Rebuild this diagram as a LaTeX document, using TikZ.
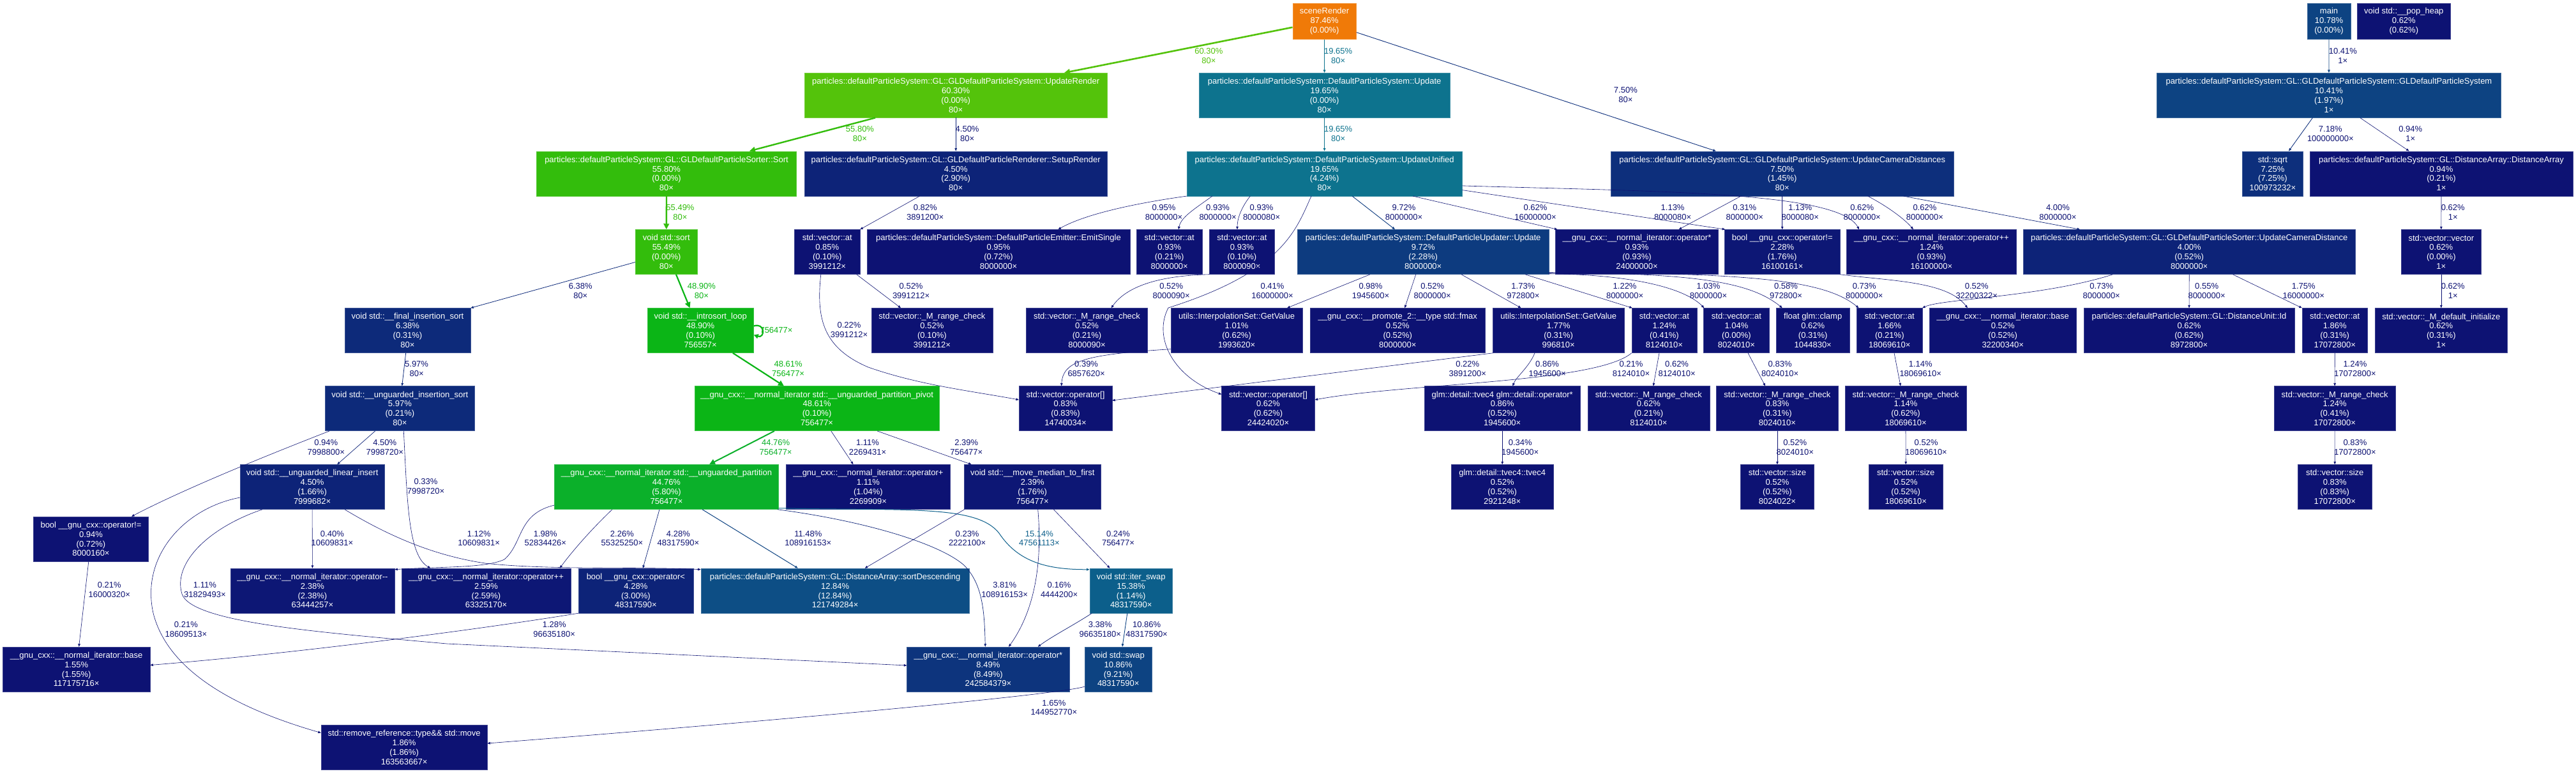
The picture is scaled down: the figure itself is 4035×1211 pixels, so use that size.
\documentclass[tikz,border=0pt]{standalone}
\usepackage{fontspec}
\setmainfont{Liberation Sans}
\usetikzlibrary{arrows.meta}
\definecolor{corg}{RGB}{240,122,8}
\definecolor{cg60}{RGB}{84,195,11}
\definecolor{cg55}{RGB}{51,189,12}
\definecolor{cg49}{RGB}{11,181,22}
\definecolor{cg45}{RGB}{11,176,42}
\definecolor{ct20}{RGB}{13,115,142}
\definecolor{ct15}{RGB}{12,95,139}
\definecolor{c13}{RGB}{13,78,133}
\definecolor{c11}{RGB}{13,67,130}
\definecolor{c10}{RGB}{13,59,127}
\definecolor{c8}{RGB}{13,52,125}
\definecolor{c7}{RGB}{13,47,124}
\definecolor{c6}{RGB}{13,42,122}
\definecolor{c4}{RGB}{13,35,120}
\definecolor{c3}{RGB}{13,28,118}
\definecolor{c2}{RGB}{13,23,117}
\definecolor{c1}{RGB}{13,18,115}
\newcommand\nf{\fontsize{13pt}{14.8pt}\selectfont}
\tikzset{
  box/.style={rectangle, inner sep=0pt, text=white, align=center, font=\nf, minimum height=70pt, fill=#1, draw=#1!80!white, line width=0.5pt},
  ed/.style={draw=#1, line width=0.6pt, -{Triangle[length=4.5pt,width=3.6pt]}},
  heavy/.style={line width=#1, -{Triangle[length=9pt,width=8.5pt]}},
  lbl/.style={font=\nf, align=center, inner sep=0pt, text=#1},
}
\newcommand\bx[6]{\node[box=#5, minimum width=#4pt] (#1) at (#2,#3) {#6};}
\newcommand\bxs[6]{\node[box=#5, minimum width=#4pt, minimum height=56pt] (#1) at (#2,#3) {#6};}
\newcommand\lb[5]{\node[lbl=#4] (#1) at (#2,#3) {#5};}
\begin{document}
\begin{tikzpicture}[x=1pt,y=-1pt]
\useasboundingbox[fill=white] (0,0) rectangle (4035,1211);
% ---------------- nodes
\bxs{scene}{2074.6}{33.25}{99.7}{corg}{sceneRender\\87.46\%\\(0.00\%)}
\bxs{mainn}{3648}{33.25}{68.3}{c11}{main\\10.78\%\\(0.00\%)}
\bxs{popheap}{3765.3}{33.25}{145.8}{c1}{void std::\_\_pop\_heap\\0.62\%\\(0.62\%)}
\bx{updrender}{1497.2}{149.2}{473.9}{cg60}{particles::defaultParticleSystem::GL::GLDefaultParticleSystem::UpdateRender\\60.30\%\\(0.00\%)\\80×}
\bx{update}{2074.6}{149.2}{392.9}{ct20}{particles::defaultParticleSystem::DefaultParticleSystem::Update\\19.65\%\\(0.00\%)\\80×}
\bx{gldps}{3647.9}{149.2}{539.5}{c11}{particles::defaultParticleSystem::GL::GLDefaultParticleSystem::GLDefaultParticleSystem\\10.41\%\\(1.97\%)\\1×}
\bx{sortn}{1044}{271.8}{407.2}{cg55}{particles::defaultParticleSystem::GL::GLDefaultParticleSorter::Sort\\55.80\%\\(0.00\%)\\80×}
\bx{setup}{1497.2}{271.8}{473.9}{c4}{particles::defaultParticleSystem::GL::GLDefaultParticleRenderer::SetupRender\\4.50\%\\(2.90\%)\\80×}
\bx{unified}{2074.6}{271.8}{431.1}{ct20}{particles::defaultParticleSystem::DefaultParticleSystem::UpdateUnified\\19.65\%\\(4.24\%)\\80×}
\bx{ucd}{2791.7}{271.8}{537.4}{c7}{particles::defaultParticleSystem::GL::GLDefaultParticleSystem::UpdateCameraDistances\\7.50\%\\(1.45\%)\\80×}
\bx{sqrtn}{3559.9}{271.8}{94.9}{c7}{std::sqrt\\7.25\%\\(7.25\%)\\100973232×}
\bx{distarr}{3824}{271.8}{412.3}{c1}{particles::defaultParticleSystem::GL::DistanceArray::DistanceArray\\0.94\%\\(0.21\%)\\1×}
\bx{stdsort}{1043.8}{394.5}{97.2}{cg55}{void std::sort\\55.49\%\\(0.00\%)\\80×}
\bx{at085}{1295.8}{394.5}{102.3}{c1}{std::vector::at\\0.85\%\\(0.10\%)\\3991212×}
\bx{emit}{1564}{394.5}{411.5}{c1}{particles::defaultParticleSystem::DefaultParticleEmitter::EmitSingle\\0.95\%\\(0.72\%)\\8000000×}
\bx{at093a}{1831.7}{394.5}{102.4}{c1}{std::vector::at\\0.93\%\\(0.21\%)\\8000000×}
\bx{at093b}{1945.4}{394.5}{102.3}{c1}{std::vector::at\\0.93\%\\(0.10\%)\\8000090×}
\bx{dpu}{2229.2}{394.5}{393.3}{c10}{particles::defaultParticleSystem::DefaultParticleUpdater::Update\\9.72\%\\(2.28\%)\\8000000×}
\bx{opstar093}{2564}{394.5}{254.6}{c1}{\_\_gnu\_cxx::\_\_normal\_iterator::operator*\\0.93\%\\(0.93\%)\\24000000×}
\bx{neq228}{2791.7}{394.5}{180.4}{c2}{bool \_\_gnu\_cxx::operator!=\\2.28\%\\(1.76\%)\\16100161×}
\bx{pp124}{3025.4}{394.5}{265.6}{c1}{\_\_gnu\_cxx::\_\_normal\_iterator::operator++\\1.24\%\\(0.93\%)\\16100000×}
\bx{ucdist}{3429.2}{394.5}{519.5}{c4}{particles::defaultParticleSystem::GL::GLDefaultParticleSorter::UpdateCameraDistance\\4.00\%\\(0.52\%)\\8000000×}
\bx{vecvec}{3823.8}{394.5}{124.6}{c1}{std::vector::vector\\0.62\%\\(0.00\%)\\1×}
\bx{finsort}{638.5}{517.5}{197}{c6}{void std::\_\_final\_insertion\_sort\\6.38\%\\(0.31\%)\\80×}
\bx{intro}{1097.2}{517.5}{166.5}{cg49}{void std::\_\_introsort\_loop\\48.90\%\\(0.10\%)\\756557×}
\bx{rc052a}{1459.9}{517.5}{190.3}{c1}{std::vector::\_M\_range\_check\\0.52\%\\(0.10\%)\\3991212×}
\bx{rc052b}{1702.5}{517.5}{190}{c1}{std::vector::\_M\_range\_check\\0.52\%\\(0.21\%)\\8000090×}
\bx{getv101}{1937.1}{517.5}{206.4}{c1}{utils::InterpolationSet::GetValue\\1.01\%\\(0.62\%)\\1993620×}
\bx{fmax}{2189.3}{517.5}{273.7}{c1}{\_\_gnu\_cxx::\_\_promote\_2::\_\_type std::fmax\\0.52\%\\(0.52\%)\\8000000×}
\bx{getv177}{2441.2}{517.5}{206}{c1}{utils::InterpolationSet::GetValue\\1.77\%\\(0.31\%)\\996810×}
\bx{at124}{2606.9}{517.5}{101.9}{c1}{std::vector::at\\1.24\%\\(0.41\%)\\8124010×}
\bx{at104}{2719.9}{517.5}{102.7}{c1}{std::vector::at\\1.04\%\\(0.00\%)\\8024010×}
\bx{clamp}{2839.7}{517.5}{115.6}{c1}{float glm::clamp\\0.62\%\\(0.31\%)\\1044830×}
\bx{at166}{2959.8}{517.5}{102.2}{c1}{std::vector::at\\1.66\%\\(0.21\%)\\18069610×}
\bx{base052}{3137.2}{517.5}{230.4}{c1}{\_\_gnu\_cxx::\_\_normal\_iterator::base\\0.52\%\\(0.52\%)\\32200340×}
\bx{distid}{3429}{517.5}{330}{c1}{particles::defaultParticleSystem::GL::DistanceUnit::Id\\0.62\%\\(0.62\%)\\8972800×}
\bx{at186}{3657.2}{517.5}{102.4}{c1}{std::vector::at\\1.86\%\\(0.31\%)\\17072800×}
\bx{definit}{3823.8}{517.5}{207}{c1}{std::vector::\_M\_default\_initialize\\0.62\%\\(0.31\%)\\1×}
\bx{uinssort}{626.4}{639.7}{233.8}{c6}{void std::\_\_unguarded\_insertion\_sort\\5.97\%\\(0.21\%)\\80×}
\bx{pivot}{1279.6}{639.7}{382.5}{cg49}{\_\_gnu\_cxx::\_\_normal\_iterator std::\_\_unguarded\_partition\_pivot\\48.61\%\\(0.10\%)\\756477×}
\bx{opidx1}{1669}{639.7}{145.7}{c1}{std::vector::operator[]\\0.83\%\\(0.83\%)\\14740034×}
\bx{opidx2}{1986.5}{639.7}{145.7}{c1}{std::vector::operator[]\\0.62\%\\(0.62\%)\\24424020×}
\bx{glmmul}{2353.2}{639.7}{244.2}{c1}{glm::detail::tvec4 glm::detail::operator*\\0.86\%\\(0.52\%)\\1945600×}
\bx{rc062}{2582.4}{639.7}{190.9}{c1}{std::vector::\_M\_range\_check\\0.62\%\\(0.21\%)\\8124010×}
\bx{rc083}{2783.9}{639.7}{190.6}{c1}{std::vector::\_M\_range\_check\\0.83\%\\(0.31\%)\\8024010×}
\bx{rc114}{2985}{639.7}{190.2}{c1}{std::vector::\_M\_range\_check\\1.14\%\\(0.62\%)\\18069610×}
\bx{rc124}{3657.1}{639.7}{190.1}{c1}{std::vector::\_M\_range\_check\\1.24\%\\(0.41\%)\\17072800×}
\bx{linins}{489.1}{762.5}{225.5}{c4}{void std::\_\_unguarded\_linear\_insert\\4.50\%\\(1.66\%)\\7999682×}
\bx{upart}{1044}{762.5}{350.8}{cg45}{\_\_gnu\_cxx::\_\_normal\_iterator std::\_\_unguarded\_partition\\44.76\%\\(5.80\%)\\756477×}
\bx{opplus}{1359.9}{762.5}{256.8}{c1}{\_\_gnu\_cxx::\_\_normal\_iterator::operator+\\1.11\%\\(1.04\%)\\2269909×}
\bx{median}{1617.2}{762.5}{214.7}{c2}{void std::\_\_move\_median\_to\_first\\2.39\%\\(1.76\%)\\756477×}
\bx{tvec}{2353.2}{762.5}{159.2}{c1}{glm::detail::tvec4::tvec4\\0.52\%\\(0.52\%)\\2921248×}
\bx{size1}{2783.9}{762.5}{115.6}{c1}{std::vector::size\\0.52\%\\(0.52\%)\\8024022×}
\bx{size2}{2985.2}{762.5}{115.6}{c1}{std::vector::size\\0.52\%\\(0.52\%)\\18069610×}
\bx{size3}{3657.2}{762.5}{115.7}{c1}{std::vector::size\\0.83\%\\(0.83\%)\\17072800×}
\bx{neq094}{142.5}{844}{179.9}{c1}{bool \_\_gnu\_cxx::operator!=\\0.94\%\\(0.72\%)\\8000160×}
\bx{opmm}{489.4}{925}{257.2}{c2}{\_\_gnu\_cxx::\_\_normal\_iterator::operator-{}-\\2.38\%\\(2.38\%)\\63444257×}
\bx{oppp259}{761.5}{925}{265.4}{c2}{\_\_gnu\_cxx::\_\_normal\_iterator::operator++\\2.59\%\\(2.59\%)\\63325170×}
\bx{oplt}{995.9}{925}{179.9}{c4}{bool \_\_gnu\_cxx::operator<\\4.28\%\\(3.00\%)\\48317590×}
\bx{sortdesc}{1308.1}{925}{420.2}{c13}{particles::defaultParticleSystem::GL::DistanceArray::sortDescending\\12.84\%\\(12.84\%)\\121749284×}
\bx{iterswap}{1771.7}{925}{129.7}{ct15}{void std::iter\_swap\\15.38\%\\(1.14\%)\\48317590×}
\bx{base155}{119.7}{1048}{230.7}{c1}{\_\_gnu\_cxx::\_\_normal\_iterator::base\\1.55\%\\(1.55\%)\\117175716×}
\bx{opstar849}{1547.9}{1048}{254.6}{c8}{\_\_gnu\_cxx::\_\_normal\_iterator::operator*\\8.49\%\\(8.49\%)\\242584379×}
\bx{swapn}{1751.7}{1048}{104.6}{c11}{void std::swap\\10.86\%\\(9.21\%)\\48317590×}
\bx{move}{633.1}{1170.5}{260.2}{c1}{std::remove\_reference::type\&\& std::move\\1.86\%\\(1.86\%)\\163563667×}
% ---------------- edges
\draw[ed=cg60, heavy=2.6pt] ([yshift=-9.5pt]scene.west) -- ([xshift=169.8pt]updrender.north);
\draw[ed=ct20, line width=1.2pt] (scene.south) -- (update.north);
\draw[ed=c7, line width=0.9pt] ([yshift=-17.4pt]scene.east) -- ([xshift=-104pt]ucd.north);
\draw[ed=ct20, line width=1.2pt] (update.south) -- (unified.north);
\draw[ed=cg55, heavy=2.4pt] ([xshift=-126.2pt]updrender.south) -- ([xshift=129.9pt]sortn.north);
\draw[ed=c4, line width=0.7pt] (updrender.south) -- (setup.north);
\draw[ed=cg55, heavy=2.4pt] (sortn.south) -- (stdsort.north);
\draw[ed=c6, line width=0.8pt] ([yshift=-16pt]stdsort.west) -- (finsort.north east);
\draw[ed=cg49, heavy=2.2pt] ([xshift=15.2pt]stdsort.south) -- ([xshift=-16.6pt]intro.north);
\draw[ed=cg49, line width=2.2pt, -{Triangle[length=7pt,width=7pt]}] ([yshift=7pt]intro.east) .. controls +(18,-6) and +(18,6) .. ([yshift=-7pt]intro.east);
\draw[ed=cg49, heavy=2.2pt] ([xshift=50.7pt]intro.south) -- ([xshift=-51.6pt]pivot.north);
\draw[ed=c6, line width=0.8pt] ([xshift=-2.8pt]finsort.south) -- ([xshift=3.3pt]uinssort.north);
\draw[ed=c1] ([xshift=-56.6pt]setup.south) -- (at085.north east);
\draw[ed=c1] ([xshift=45.9pt]at085.south) -- ([xshift=-48.9pt]rc052a.north);
\draw[ed=c1] ([xshift=-10pt]at085.south) .. controls (1278,500) and (1290,545) .. (1360,575) .. controls (1440,603) and (1520,612) .. ([yshift=13.7pt]opidx1.west);
\draw[ed=c1] (unified.south west) .. controls (1780,318) and (1700,335) .. ([xshift=93.4pt]emit.north);
\draw[ed=c1] ([xshift=-175.7pt]unified.south) .. controls (1870,328) and (1850,340) .. ([xshift=14.3pt]at093a.north);
\draw[ed=c1] ([xshift=-116.3pt]unified.south) .. controls (1942,328) and (1938,345) .. ([xshift=-7.4pt]at093b.north);
\draw[ed=c1] (at093b.south west) .. controls (1800,432) and (1760,455) .. ([xshift=38.1pt]rc052b.north);
\draw[ed=c1] ([xshift=-20.6pt]unified.south) .. controls (2030,360) and (2010,425) .. (1830,482) .. controls (1805,530) and (1840,592) .. ([yshift=22.2pt]opidx2.west);
\draw[ed=c1] ([yshift=-29.2pt]getv101.west) .. controls (1700,555) and (1665,565) .. ([xshift=-6.4pt]opidx1.north);
\draw[ed=c10, line width=0.9pt] ([xshift=43.4pt]unified.south) -- ([xshift=-44.2pt]dpu.north);
\draw[ed=c1] ([xshift=138.4pt]unified.south) -- ([xshift=3pt]opstar093.north west);
\draw[ed=c1] ([yshift=-25.8pt]unified.east) -- ([xshift=1pt]neq228.north west);
\draw[ed=c1] ([yshift=-19.1pt]unified.east) .. controls (2600,300) and (2880,300) .. ([xshift=-113.4pt]pp124.north);
\draw[ed=c1] ([xshift=-64.7pt]ucd.south) -- ([xshift=65.6pt]opstar093.north);
\draw[ed=c1] (ucd.south) -- (neq228.north);
\draw[ed=c1] ([xshift=133.9pt]ucd.south) .. controls (2960,325) and (2985,345) .. ([xshift=-28.4pt]pp124.north);
\draw[ed=c4, line width=0.7pt] ([xshift=189.7pt]ucd.south) -- ([xshift=-171.2pt]ucdist.north);
\draw[ed=c1] ([xshift=-83.2pt]dpu.south) -- ([xshift=78.9pt]getv101.north);
\draw[ed=c1] ([xshift=-11.5pt]dpu.south) -- ([xshift=11pt]fmax.north);
\draw[ed=c1] ([xshift=59.8pt]dpu.south) -- ([xshift=-58.7pt]getv177.north);
\draw[ed=c1] ([xshift=159.8pt]dpu.south) -- ([xshift=1pt]at124.north west);
\draw[ed=c1] ([yshift=1pt]dpu.south east) .. controls (2560,430) and (2640,452) .. ([xshift=1pt]at104.north west);
\draw[ed=c1] ([yshift=3pt]dpu.south east) .. controls (2650,428) and (2740,440) .. ([xshift=-48pt]clamp.north);
\draw[ed=c1] ([yshift=2pt]dpu.south east) .. controls (2750,426) and (2860,440) .. ([xshift=3pt]at166.north west);
\draw[ed=c1] (neq228.south east) .. controls (2960,440) and (3050,440) .. ([xshift=-55.3pt]base052.north);
\draw[ed=c1] ([xshift=-119.7pt]ucdist.south) .. controls (3200,465) and (3040,468) .. (at166.north east);
\draw[ed=c1] (ucdist.south) -- (distid.north);
\draw[ed=c1] ([xshift=68.2pt]ucdist.south) -- (at186.north west);
\draw[ed=c11, line width=0.9pt] (mainn.south) -- (gldps.north);
\draw[ed=c7, line width=0.85pt] ([xshift=-25.5pt]gldps.south) -- ([xshift=25.1pt]sqrtn.north);
\draw[ed=c1] ([xshift=48.9pt]gldps.south) -- ([xshift=-50.5pt]distarr.north);
\draw[ed=c1] (distarr.south) -- (vecvec.north);
\draw[ed=c1] (vecvec.south) -- (definit.north);
\draw[ed=c1] (at186.south) -- (rc124.north);
\draw[ed=c1] (rc124.south) -- (size3.north);
\draw[ed=c1] ([xshift=18.1pt]at104.south) -- ([xshift=-18.9pt]rc083.north);
\draw[ed=c1] ([xshift=7.2pt]at166.south) -- ([xshift=-8pt]rc114.north);
\draw[ed=c1] (rc083.south) -- (size1.north);
\draw[ed=c1] (rc114.south) -- (size2.north);
\draw[ed=c1] (glmmul.south) -- (tvec.north);
\draw[ed=c1] ([xshift=-37.2pt]getv177.south) .. controls (2395,575) and (2375,590) .. ([xshift=16.2pt]glmmul.north);
\draw[ed=c1] ([xshift=1pt]getv177.south west) -- ([yshift=12.7pt]opidx1.east);
\draw[ed=c1] (at124.south west) .. controls (2500,600) and (2200,600) .. ([yshift=13.7pt]opidx2.east);
\draw[ed=c1] ([xshift=-7.9pt]at124.south) -- ([xshift=7.3pt]rc062.north);
\draw[ed=c1] ([xshift=-110.4pt]uinssort.south) .. controls (400,720) and (280,770) .. ([xshift=63.5pt]neq094.north);
\draw[ed=c4, line width=0.7pt] ([xshift=-38.8pt]uinssort.south) -- ([xshift=39.1pt]linins.north);
\draw[ed=c1] ([xshift=5.9pt]uinssort.south) .. controls (638,790) and (640,870) .. ([xshift=-87.2pt]oppp259.north);
\draw[ed=c1] ([xshift=-3.7pt]neq094.south) -- ([xshift=3.9pt]base155.north);
\draw[ed=c1] (linins.south) -- (opmm.north);
\draw[ed=c1] ([yshift=-16.5pt]linins.west) .. controls (290,795) and (220,870) .. (240,960) .. controls (265,1060) and (390,1115) .. ([yshift=23pt]move.west);
\draw[ed=c1] ([xshift=-78.1pt]linins.south) .. controls (330,825) and (270,880) .. (285,930) .. controls (300,975) and (500,990) .. (700,1008) -- ([yshift=6pt]opstar849.west);
\draw[ed=c1] ([xshift=50.8pt]linins.south) .. controls (610,840) and (680,870) .. (760,882) .. controls (860,893) and (1000,887) .. ([yshift=-2pt]sortdesc.north west);
\draw[ed=c1] ([yshift=-28.5pt]upart.west) .. controls (810,805) and (820,850) .. (790,876) .. controls (760,890) and (690,887) .. ([yshift=-2pt]opmm.north east);
\draw[ed=c1] ([xshift=-85pt]upart.south) .. controls (925,830) and (895,865) .. ([xshift=115.3pt]oppp259.north);
\draw[ed=c4, line width=0.7pt] ([xshift=-11pt]upart.south) -- ([xshift=11.1pt]oplt.north);
\draw[ed=c11, line width=1pt] ([xshift=56pt]upart.south) -- ([xshift=-58.3pt]sortdesc.north);
\draw[ed=c4, line width=0.7pt] ([xshift=-2pt]upart.south east) .. controls (1350,815) and (1470,850) .. (1510,885) .. controls (1540,915) and (1542,960) .. ([xshift=-4.6pt]opstar849.north);
\draw[ed=ct15, line width=1pt] ([yshift=2pt]upart.south east) .. controls (1420,800) and (1530,790) .. (1565,835) .. controls (1595,880) and (1640,892) .. ([yshift=-2pt]iterswap.north west);
\draw[ed=cg45, heavy=2pt] ([xshift=-66.7pt]pivot.south) -- ([xshift=67pt]upart.north);
\draw[ed=c1] ([xshift=22.2pt]pivot.south) -- ([xshift=-23.4pt]opplus.north);
\draw[ed=c1] ([xshift=94.6pt]pivot.south) -- ([xshift=-95.6pt]median.north);
\draw[ed=c1] ([xshift=1pt]median.south west) -- ([xshift=46.6pt]sortdesc.north);
\draw[ed=c1] ([xshift=8.5pt]median.south) .. controls (1632,870) and (1625,950) .. ([xshift=32.1pt]opstar849.north);
\draw[ed=c1] ([xshift=33.2pt]median.south) -- ([xshift=-33.2pt]iterswap.north);
\draw[ed=c3, line width=0.7pt] ([xshift=-61.4pt]iterswap.south) .. controls (1680,980) and (1650,995) .. ([xshift=77.8pt]opstar849.north);
\draw[ed=c11, line width=0.9pt] ([xshift=-5.9pt]iterswap.south) -- ([xshift=6.3pt]swapn.north);
\draw[ed=c1] (oplt.south west) .. controls (800,978) and (500,1020) .. ([yshift=6.5pt]base155.east);
\draw[ed=c1] ([yshift=-27pt]swapn.west) .. controls (1660,1088) and (1200,1130) .. ([yshift=6.5pt]move.east);
% ---------------- edge labels
\lb{l1}{1893.3}{87.2}{cg60}{60.30\%\\80×}
\lb{l2}{2096.2}{87.2}{ct20}{19.65\%\\80×}
\lb{l3}{2546.4}{148.2}{c1}{7.50\%\\80×}
\lb{l4}{2096.2}{209.3}{ct20}{19.65\%\\80×}
\lb{l5}{1347}{209.3}{cg55}{55.80\%\\80×}
\lb{l6}{1515.1}{209.3}{c1}{4.50\%\\80×}
\lb{l7}{1065.5}{332.3}{cg55}{55.49\%\\80×}
\lb{l8}{909.3}{455.3}{c1}{6.38\%\\80×}
\lb{l9}{1098.9}{455.3}{cg49}{48.90\%\\80×}
\lb{l10}{1216}{516.7}{cg49}{756477×}
\lb{l11}{1234.6}{577.6}{cg49}{48.61\%\\756477×}
\lb{l12}{652.6}{577.6}{c1}{5.97\%\\80×}
\lb{l13}{1449.2}{332.3}{c1}{0.82\%\\3891200×}
\lb{l14}{1427.1}{455.3}{c1}{0.52\%\\3991212×}
\lb{l15}{1330}{516.2}{c1}{0.22\%\\3991212×}
\lb{l16}{1823}{332.3}{c1}{0.95\%\\8000000×}
\lb{l17}{1907.6}{332.3}{c1}{0.93\%\\8000000×}
\lb{l18}{1976.1}{332.3}{c1}{0.93\%\\8000080×}
\lb{l19}{1834.7}{455.3}{c1}{0.52\%\\8000090×}
\lb{l20}{1993}{455.3}{c1}{0.41\%\\16000000×}
\lb{l21}{1701.6}{577.6}{c1}{0.39\%\\6857620×}
\lb{l22}{2199}{332.3}{c1}{9.72\%\\8000000×}
\lb{l23}{2405}{332.3}{c1}{0.62\%\\16000000×}
\lb{l24}{2620.1}{332.3}{c1}{1.13\%\\8000080×}
\lb{l25}{2916.7}{332.3}{c1}{0.62\%\\8000000×}
\lb{l26}{2732.8}{332.3}{c1}{0.31\%\\8000000×}
\lb{l27}{2819.8}{332.3}{c1}{1.13\%\\8000080×}
\lb{l28}{3014.9}{332.3}{c1}{0.62\%\\8000000×}
\lb{l29}{3223.4}{332.3}{c1}{4.00\%\\8000000×}
\lb{l30}{2147}{455.3}{c1}{0.98\%\\1945600×}
\lb{l31}{2243.7}{455.3}{c1}{0.52\%\\8000000×}
\lb{l32}{2385.9}{455.3}{c1}{1.73\%\\972800×}
\lb{l33}{2545.1}{455.3}{c1}{1.22\%\\8000000×}
\lb{l34}{2676}{455.3}{c1}{1.03\%\\8000000×}
\lb{l35}{2797.5}{455.3}{c1}{0.58\%\\972800×}
\lb{l36}{2920.3}{455.3}{c1}{0.73\%\\8000000×}
\lb{l37}{3096.2}{455.3}{c1}{0.52\%\\32200322×}
\lb{l38}{3291.7}{455.3}{c1}{0.73\%\\8000000×}
\lb{l39}{3456.6}{455.3}{c1}{0.55\%\\8000000×}
\lb{l40}{3608.2}{455.3}{c1}{1.75\%\\16000000×}
\lb{l41}{3669.8}{87.2}{c1}{10.41\%\\1×}
\lb{l42}{3650.3}{209.3}{c1}{7.18\%\\100000000×}
\lb{l43}{3775.7}{209.3}{c1}{0.94\%\\1×}
\lb{l44}{3842.2}{332.3}{c1}{0.62\%\\1×}
\lb{l45}{3842.2}{455.3}{c1}{0.62\%\\1×}
\lb{l46}{3688.9}{577.6}{c1}{1.24\%\\17072800×}
\lb{l47}{3688.9}{700.2}{c1}{0.83\%\\17072800×}
\lb{l48}{2788.1}{577.6}{c1}{0.83\%\\8024010×}
\lb{l49}{3008.2}{577.6}{c1}{1.14\%\\18069610×}
\lb{l50}{2811.8}{700.2}{c1}{0.52\%\\8024010×}
\lb{l51}{3017.1}{700.2}{c1}{0.52\%\\18069610×}
\lb{l52}{2381.2}{700.2}{c1}{0.34\%\\1945600×}
\lb{l53}{2423.6}{577.6}{c1}{0.86\%\\1945600×}
\lb{l54}{2298.8}{577.6}{c1}{0.22\%\\3891200×}
\lb{l55}{2555}{577.6}{c1}{0.21\%\\8124010×}
\lb{l56}{2626.6}{577.6}{c1}{0.62\%\\8124010×}
\lb{l58}{510.8}{700.2}{c1}{0.94\%\\7998800×}
\lb{l59}{602.8}{700.2}{c1}{4.50\%\\7998720×}
\lb{l60}{667}{761.7}{c1}{0.33\%\\7998720×}
\lb{l61}{171.3}{923.9}{c1}{0.21\%\\16000320×}
\lb{l62}{520.4}{843}{c1}{0.40\%\\10609831×}
\lb{l63}{291.4}{985.8}{c1}{0.21\%\\18609513×}
\lb{l64}{320.9}{923.9}{c1}{1.11\%\\31829493×}
\lb{l65}{750.2}{843}{c1}{1.12\%\\10609831×}
\lb{l67}{854.3}{843}{c1}{1.98\%\\52834426×}
\lb{l68}{974.4}{843}{c1}{2.26\%\\55325250×}
\lb{l69}{1062.4}{843}{c1}{4.28\%\\48317590×}
\lb{l70}{1265.8}{843}{c1}{11.48\%\\108916153×}
\lb{l71}{1573.7}{923.9}{c1}{3.81\%\\108916153×}
\lb{l72}{1627.9}{843}{ct15}{15.14\%\\47561113×}
\lb{l73}{1215.1}{700.2}{cg45}{44.76\%\\756477×}
\lb{l74}{1359}{700.2}{c1}{1.11\%\\2269431×}
\lb{l75}{1513.8}{700.2}{c1}{2.39\%\\756477×}
\lb{l76}{1515.1}{843}{c1}{0.23\%\\2222100×}
\lb{l77}{1659.1}{923.9}{c1}{0.16\%\\4444200×}
\lb{l78}{1751.5}{843}{c1}{0.24\%\\756477×}
\lb{l79}{1723.3}{985.8}{c1}{3.38\%\\96635180×}
\lb{l80}{1796.1}{985.8}{c1}{10.86\%\\48317590×}
\lb{l81}{868.2}{985.8}{c1}{1.28\%\\96635180×}
\lb{l82}{1650.9}{1108}{c1}{1.65\%\\144952770×}
\end{tikzpicture}
\end{document}
